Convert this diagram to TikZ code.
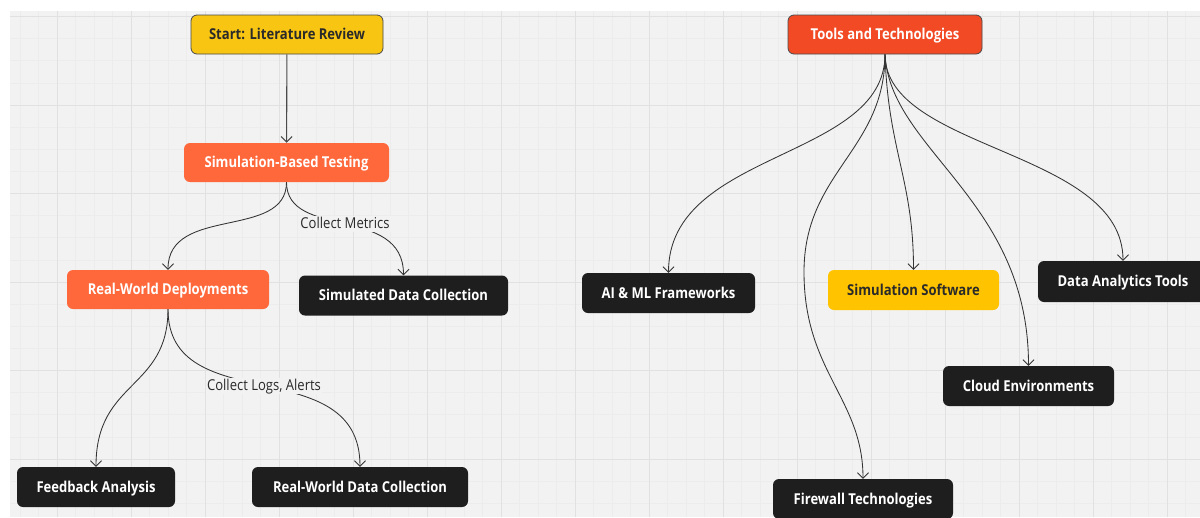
\documentclass[tikz,border=0pt]{standalone}
\usepackage{fontspec}
\setmainfont{Open Sans}[FakeStretch=0.87]
\usetikzlibrary{arrows.meta}
\definecolor{bgc}{HTML}{F2F2F2}
\definecolor{gridmaj}{HTML}{E1E1E1}
\definecolor{gridmin}{HTML}{ECECEC}
\definecolor{ystart}{HTML}{F8C512}
\definecolor{orng}{HTML}{FF683B}
\definecolor{redo}{HTML}{F14A25}
\definecolor{blk}{HTML}{1E1E1E}
\definecolor{ysw}{HTML}{FFC300}
\definecolor{edgec}{HTML}{333333}
\definecolor{bordc}{HTML}{4A4A4A}
\definecolor{darktext}{HTML}{2A2A2A}
\begin{document}
\begin{tikzpicture}[x=1pt,y=-1pt,
  box/.style={rounded corners=6pt, inner sep=0pt, minimum height=39pt,
    text height=10.8pt, text depth=0pt,
    font=\fontsize{15}{18}\selectfont\bfseries, align=center},
  yellowbox/.style={box, fill=ystart, draw=bordc, line width=0.8pt, text=darktext},
  orangebox/.style={box, fill=orng, text=white},
  redbox/.style={box, fill=redo, draw=bordc, line width=0.8pt, text=white},
  darkbox/.style={box, fill=blk, text=white, minimum height=40pt},
  swbox/.style={box, fill=ysw, text=darktext, minimum height=40pt},
  conn/.style={draw=edgec, line width=0.85pt, -{Straight Barb[length=5.5pt,width=11pt]}},
  lbl/.style={fill=bgc, inner sep=1.5pt, text height=10.8pt, text depth=2pt,
    font=\fontsize{15}{18}\selectfont, text=darktext}
]
\useasboundingbox (0,0) rectangle (1200,517);
\fill[white] (0,0) rectangle (1200,517);
\fill[bgc] (10,11) rectangle (1200,517);
\begin{scope}
  \clip (10,11) rectangle (1200,517);
  \foreach \i in {-3,...,62} \draw[gridmin, line width=0.6pt] ({57+18.5*\i},11) -- ++(0,506);
  \foreach \i in {0,...,24} \draw[gridmin, line width=0.6pt] (10,{16.5+22.125*\i}) -- ++(1190,0);
  \foreach \i in {0,...,15} \draw[gridmaj, line width=0.8pt] ({57+74*\i},11) -- ++(0,506);
  \foreach \i in {0,...,5} \draw[gridmaj, line width=0.8pt] (10,{16.5+88.5*\i}) -- ++(1190,0);
\end{scope}

% left tree
\node[yellowbox, minimum width=192pt] (start) at (287,34.5) {Start: Literature Review};
\node[orangebox, minimum width=205pt] (sim) at (286.5,162.5) {Simulation-Based Testing};
\node[orangebox, minimum width=202pt] (rwd) at (168,289.5) {Real-World Deployments};
\node[darkbox, minimum width=209pt] (simdata) at (403.5,295.5) {Simulated Data Collection};
\node[darkbox, minimum width=158pt] (feedback) at (96,487) {Feedback Analysis};
\node[darkbox, minimum width=216pt] (rwdc) at (360,487) {Real-World Data Collection};

% right tree
\node[redbox, minimum width=194pt] (tools) at (885,34.5) {Tools and Technologies};
\node[darkbox, minimum width=173pt] (ai) at (668.5,293) {AI \& ML Frameworks};
\node[swbox, minimum width=171pt] (simsw) at (913.5,290) {Simulation Software};
\node[darkbox, minimum width=170pt, minimum height=41pt] (data) at (1123,281.5) {Data Analytics Tools};
\node[darkbox, minimum width=171pt] (cloud) at (1028.5,386) {Cloud Environments};
\node[darkbox, minimum width=180pt] (fw) at (863,499) {Firewall Technologies};
\coordinate (fwbend) at (804,272);

% connectors
\draw[conn, draw=bordc, line width=1.1pt] (start) -- (sim);
\draw[conn] (sim.south) .. controls +(0,58) and +(0,-65) .. (rwd.north);
\draw[conn] (sim.south) .. controls +(0,58) and +(0,-71) .. node[lbl, pos=0.5] (lm) {Collect Metrics} (simdata.north);
\draw[conn] (rwd.south) .. controls +(0,81) and +(0,-87) .. (feedback.north);
\draw[conn] (rwd.south) .. controls +(0,111) and +(0,-117) .. node[lbl, pos=0.5] (ll) {Collect Logs, Alerts} (rwdc.north);

\draw[conn] (tools.south) .. controls +(0,106) and +(0,-123) .. (ai.north);
\draw[conn] (tools.south) .. controls +(0,96) and +(0,-100) .. (fwbend) .. controls +(0,100) and +(0,-80) .. (fw.north);
\draw[conn] (tools.south) .. controls +(3,96) and +(0,-90) .. (simsw.north);
\draw[conn] (tools.south) .. controls +(5,96) and +(0,-166) .. (cloud.north);
\draw[conn] (tools.south) .. controls +(0,96) and +(0,-111) .. (data.north);
\end{tikzpicture}
\end{document}
